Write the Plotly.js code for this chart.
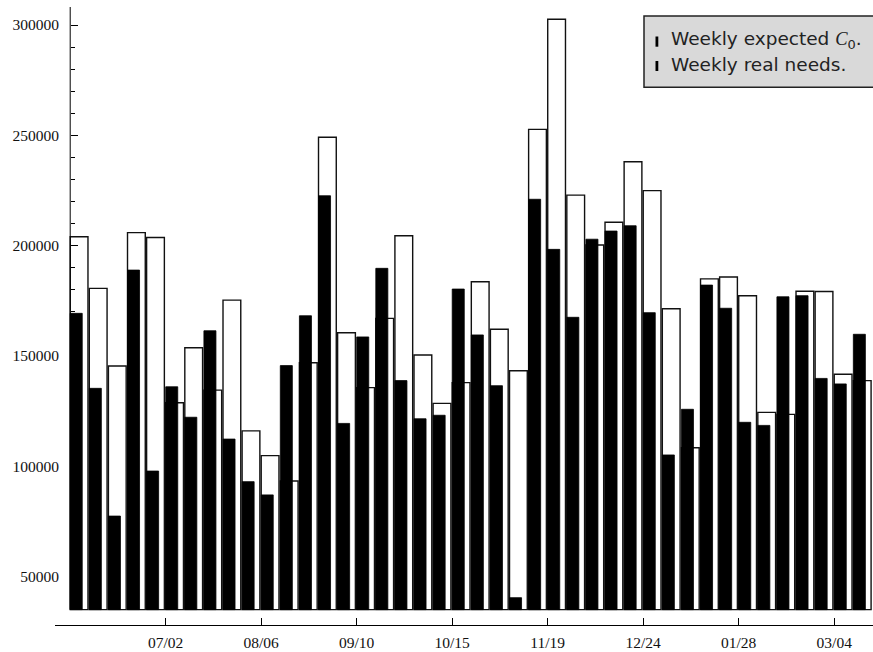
<!DOCTYPE html>
<html>
<head>
<meta charset="utf-8">
<script src="https://cdn.plot.ly/plotly-3.0.1.min.js"></script>
<style>html,body{margin:0;padding:0;background:#fff;} #chart{width:873px;height:652px;}</style>
</head>
<body>
<div id="chart"></div>
<script>
// Weekly values (white bars: expected C0, black bars: real needs)
const expectedC0 = [204000, 180600, 145400, 205900, 203700, 128800, 153700, 134500, 175300, 116000,
                    104800, 93300, 146900, 249100, 160500, 135600, 167000, 204500, 150400, 128500,
                    137900, 183600, 162100, 143300, 252700, 302600, 222900, 200300, 210600, 238000,
                    224900, 171400, 108400, 184900, 185800, 177300, 124400, 123500, 179300, 179200,
                    141700, 138800];
const realNeeds = [169300, 135300, 77400, 188900, 97800, 136000, 122200, 161400, 112300, 93000,
                   87000, 145600, 168200, 222600, 119400, 158600, 189700, 138800, 121500, 123100,
                   180300, 159500, 136500, 40400, 221000, 198300, 167500, 202900, 206600, 209000,
                   169600, 105100, 125800, 182100, 171600, 119900, 118500, 176800, 177300, 139800,
                   137300, 159800];
const tickWeeks = [5, 10, 15, 20, 25, 30, 35, 40];
const tickLabels = ['07/02', '08/06', '09/10', '10/15', '11/19', '12/24', '01/28', '03/04'];
const yTickVals = [50000, 100000, 150000, 200000, 250000, 300000];
const yMinorVals = [40000, 60000, 70000, 80000, 90000, 110000, 120000, 130000, 140000, 160000, 170000,
                    180000, 190000, 210000, 220000, 230000, 240000, 260000, 270000, 280000, 290000];
const legendLabels = ['Weekly expected <span style="font-family:Liberation Serif"><i>C</i></span><sub>0</sub>.',
                      'Weekly real needs.'];

const BASE = 35000;
const Y_RANGE = [28020, 308160];
const X_RANGE = [-0.796, 42.03];
const weekIdx = expectedC0.map((_, i) => i);

const traces = [
  {
    type: 'bar', x: weekIdx, y: expectedC0.map(v => v - BASE), base: BASE,
    offset: 0, width: 0.93,
    marker: {color: '#ffffff', line: {color: '#111', width: 1.4}},
    hoverinfo: 'skip', showlegend: false
  },
  {
    type: 'bar', x: weekIdx, y: realNeeds.map(v => v - BASE), base: BASE,
    offset: 0, width: 0.63,
    marker: {color: '#000000', line: {color: '#000', width: 0.8}},
    hoverinfo: 'skip', showlegend: false
  }
];

const W = 873, H = 652, L = 55, R = 0, T = 7, B = 27;
const pw = W - L - R, ph = H - T - B;
const px = x => (x - L) / pw;
const py = y => (H - B - y) / ph;

const tickFont = {family: 'Liberation Serif, serif', size: 15.5, color: '#111'};

const layout = {
  width: W, height: H,
  margin: {l: L, r: R, t: T, b: B, pad: 0},
  paper_bgcolor: '#fff', plot_bgcolor: '#fff',
  barmode: 'overlay', bargap: 0, showlegend: false,
  xaxis: {
    range: X_RANGE, tickmode: 'array', tickvals: tickWeeks, ticktext: tickLabels,
    ticks: 'inside', ticklen: 7, tickwidth: 1, tickcolor: '#000',
    showline: true, linecolor: '#000', linewidth: 1,
    showgrid: false, zeroline: false, tickfont: tickFont, ticklabelstandoff: 3
  },
  yaxis: {
    range: Y_RANGE, anchor: 'free', position: px(70),
    tickmode: 'array', tickvals: yTickVals, tickformat: 'd',
    ticks: 'inside', ticklen: 7, tickwidth: 1, tickcolor: '#000',
    showline: false, showgrid: false, zeroline: false, tickfont: tickFont,
    ticklabelstandoff: 11,
    minor: {tickmode: 'array', tickvals: yMinorVals, ticks: 'inside', ticklen: 4, tickwidth: 1, tickcolor: '#000', showgrid: false}
  },
  shapes: [
    {type: 'line', xref: 'x', yref: 'y', x0: 0, x1: 0, y0: BASE, y1: Y_RANGE[1], line: {color: '#000', width: 1}},
    {type: 'rect', xref: 'paper', yref: 'paper', x0: px(644), x1: px(930), y0: py(87.3), y1: py(16),
     fillcolor: '#d9d9d9', line: {color: '#222', width: 1.5}},
    {type: 'rect', xref: 'paper', yref: 'paper', x0: px(655.5), x1: px(658.3), y0: py(46.7), y1: py(36.5),
     fillcolor: '#000', line: {width: 0}},
    {type: 'rect', xref: 'paper', yref: 'paper', x0: px(655.5), x1: px(658.3), y0: py(71), y1: py(61),
     fillcolor: '#000', line: {width: 0}}
  ],
  annotations: [
    {xref: 'paper', yref: 'paper', x: px(668.5), y: py(40.3), xanchor: 'left', yanchor: 'middle',
     showarrow: false, text: legendLabels[0], font: {family: 'DejaVu Sans', size: 18.5, color: '#222'}},
    {xref: 'paper', yref: 'paper', x: px(668.5), y: py(64.6), xanchor: 'left', yanchor: 'middle',
     showarrow: false, text: legendLabels[1], font: {family: 'DejaVu Sans', size: 18.5, color: '#222'}}
  ]
};

Plotly.newPlot('chart', traces, layout, {staticPlot: true, displayModeBar: false});
</script>
</body>
</html>
